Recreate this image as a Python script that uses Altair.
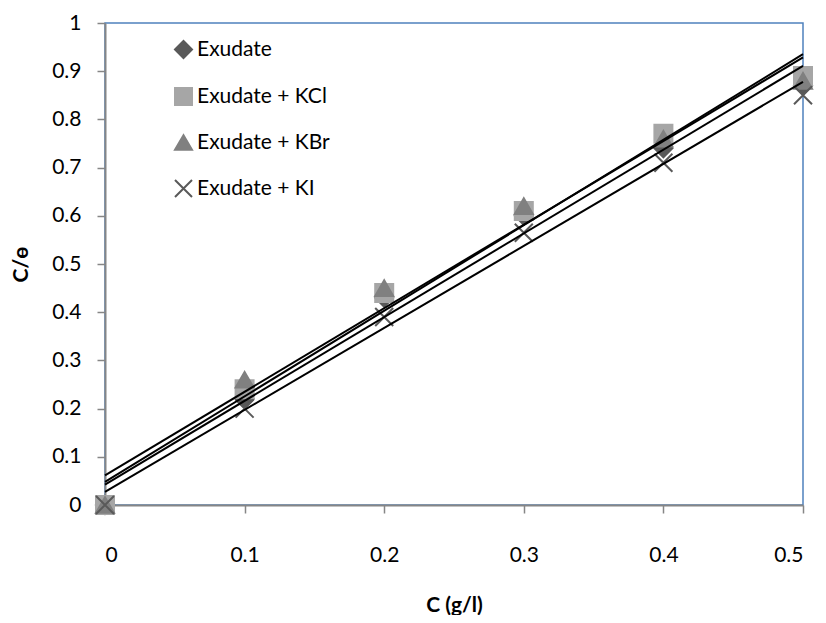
import altair as alt
import pandas as pd

series = ["Exudate", "Exudate + KCl", "Exudate + KBr", "Exudate + KI"]
conc = [0, 0.1, 0.2, 0.3, 0.4, 0.5]
exudate = [0, 0.22, 0.43, 0.60, 0.74, 0.87]
exudate_kcl = [0, 0.24, 0.44, 0.61, 0.77, 0.89]
exudate_kbr = [0, 0.26, 0.45, 0.62, 0.76, 0.88]
exudate_ki = [0, 0.20, 0.39, 0.565, 0.71, 0.85]
y_ticks = [0, 0.1, 0.2, 0.3, 0.4, 0.5, 0.6, 0.7, 0.8, 0.9, 1]

colors = ["#595959", "#A6A6A6", "#808080", "#595959"]
shapes = ["diamond", "square", "triangle-up", "M-1,-1L1,1M-1,1L1,-1"]

rows = []
for name, vals in zip(series, [exudate, exudate_kcl, exudate_kbr, exudate_ki]):
    for c, v in zip(conc, vals):
        rows.append({"series": name, "C": c, "value": v})
df = pd.DataFrame(rows)

FONT = "Lato"

x_enc = alt.X(
    "C:Q",
    scale=alt.Scale(domain=[0, 0.5], nice=False, zero=False),
    axis=alt.Axis(values=conc, format=".1~f", title="C (g/l)",
                  labelPadding=31, titlePadding=29),
)
y_enc = alt.Y(
    "value:Q",
    scale=alt.Scale(domain=[0, 1], nice=False),
    axis=alt.Axis(values=y_ticks, format=".1~f", title="C/ɵ",
                  labelPadding=16, titlePadding=20),
)

color_scale = alt.Scale(domain=series, range=colors)

points = alt.Chart(df).mark_point(
    filled=False, opacity=1, strokeWidth=2, size=324
).encode(
    x=x_enc,
    y=y_enc,
    fill=alt.Fill("series:N", scale=color_scale, legend=alt.Legend(title=None)),
    stroke=alt.Stroke("series:N", scale=color_scale, legend=alt.Legend(title=None)),
    shape=alt.Shape("series:N", scale=alt.Scale(domain=series, range=shapes),
                    legend=alt.Legend(title=None)),
)

lines = alt.Chart(df).transform_regression(
    "C", "value", groupby=["series"], extent=[0, 0.5]
).mark_line(color="black", strokeWidth=2).encode(
    x=alt.X("C:Q"),
    y=alt.Y("value:Q"),
    detail="series:N",
)

chart = alt.layer(points, lines).properties(
    width=698,
    height=482,
    autosize=alt.AutoSizeParams(type="none"),
    padding={"left": 97, "top": 15, "right": 15, "bottom": 110},
).configure_view(
    stroke="#4F81BD", strokeWidth=1.5
).configure_axis(
    grid=False,
    domainColor="#868686",
    domainWidth=2,
    tickColor="#868686",
    tickWidth=1.5,
    tickSize=8,
    labelFont=FONT,
    labelFontSize=21,
    labelColor="#000000",
    titleFont=FONT,
    titleFontSize=21,
    titleFontWeight="bold",
    titleColor="#000000",
).configure_legend(
    orient="none",
    legendX=68,
    legendY=16,
    padding=0,
    symbolSize=289,
    symbolStrokeWidth=2,
    labelFont=FONT,
    labelFontSize=21,
    labelColor="#000000",
    labelOffset=3,
    rowPadding=22,
)

chart.save("out.html", embed_options={"renderer": "svg", "actions": False})
